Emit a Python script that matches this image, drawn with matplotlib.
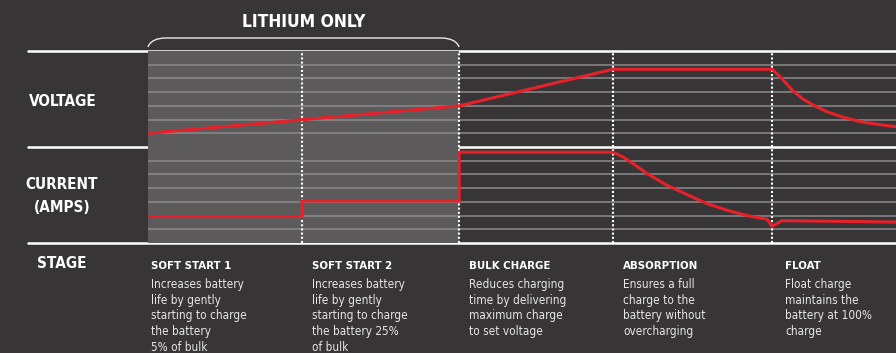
import matplotlib
matplotlib.use("Agg")
import matplotlib.pyplot as plt
from matplotlib.path import Path
from matplotlib.patches import PathPatch

# ---------------- data ----------------
stage_edges = [0, 154, 311, 465, 624]   # time axis, stage start positions
x_end = 748
lithium_end = 311

stage_titles = ["SOFT START 1", "SOFT START 2", "BULK CHARGE", "ABSORPTION", "FLOAT"]
stage_texts = [
    "Increases battery\nlife by gently\nstarting to charge\nthe battery\n5% of bulk",
    "Increases battery\nlife by gently\nstarting to charge\nthe battery 25%\nof bulk",
    "Reduces charging\ntime by delivering\nmaximum charge\nto set voltage",
    "Ensures a full\ncharge to the\nbattery without\novercharging",
    "Float charge\nmaintains the\nbattery at 100%\ncharge",
]

volt_t = [0, 311, 465, 624, 632, 639, 645, 655, 665, 679, 695, 712, 729, 748]
volt_v = [1.0, 3.0, 5.67, 5.67, 5.13, 4.57, 4.08, 3.50, 3.06, 2.57, 2.17, 1.85, 1.66, 1.48]

curr_t = [0, 154, 154, 311, 311, 465, 475, 485, 499, 519, 539, 559, 579, 599, 619, 624, 634, 748]
curr_v = [1.93, 1.93, 3.07, 3.07, 6.62, 6.62, 6.27, 5.79, 5.06, 4.21, 3.53, 2.87, 2.39, 2.00, 1.73, 1.22, 1.63, 1.53]

row_labels = ["VOLTAGE", "CURRENT\n(AMPS)", "STAGE"]

# ---------------- style ----------------
BG = "#373536"
SHADE = "#5c5a5b"
RED = "#e8202a"
GRID = "#8c8b8b"
WHITE = "#ffffff"
FONT = ["DejaVu Sans"]
STRETCH = "condensed"

W, H = 896, 353
fig = plt.figure(figsize=(W / 100, H / 100), dpi=100, facecolor=BG)

# layout axes in pixel coordinates
bg = fig.add_axes([0, 0, 1, 1])
bg.set_xlim(0, W)
bg.set_ylim(H, 0)
bg.axis("off")
bg.set_facecolor(BG)

left_px = 148
panel_top = [51, 147]
panel_h = 96


def make_panel(top):
    ax = fig.add_axes([left_px / W, (H - top - panel_h) / H, (W - left_px) / W, panel_h / H])
    ax.set_xlim(0, x_end)
    ax.set_ylim(0, 7)
    ax.axis("off")
    ax.patch.set_alpha(0)
    ax.axvspan(0, lithium_end, color=SHADE, zorder=0, lw=0)
    for g in range(1, 7):
        ax.axhline(g, color=GRID, lw=1.1, zorder=1)
    for e in stage_edges[1:]:
        ax.axvline(e, color=WHITE, lw=1.5, ls=(0, (1, 1)), zorder=2)
    return ax


ax_v = make_panel(panel_top[0])
ax_c = make_panel(panel_top[1])

ax_v.plot(volt_t, volt_v, color=RED, lw=2.2, zorder=3, solid_joinstyle="miter")
ax_c.plot(curr_t, curr_v, color=RED, lw=2.2, zorder=3, solid_joinstyle="miter")

# white separators
for y in [51, 147, 243]:
    bg.plot([27, W], [y, y], color=WHITE, lw=1.8, zorder=5, solid_capstyle="butt")

# brace over lithium-only stages
x0, x1 = left_px, left_px + lithium_end
yb, yt = 47, 38
verts = [(x0, yb), (x0 + 2, yt + 3), (x0 + 9, yt), (x0 + 18, yt),
         (x1 - 18, yt),
         (x1 - 9, yt), (x1 - 2, yt + 3), (x1, yb)]
codes = [Path.MOVETO, Path.CURVE4, Path.CURVE4, Path.CURVE4,
         Path.LINETO,
         Path.CURVE4, Path.CURVE4, Path.CURVE4]
bg.add_patch(PathPatch(Path(verts, codes), fill=False, ec="#e8e8e8", lw=1.0))

bg.text((x0 + x1) / 2, 22, "LITHIUM ONLY", color=WHITE, fontsize=12.5, fontweight="bold",
        family=FONT, fontstretch=STRETCH, ha="center", va="center")

# row labels
bg.text(29, 102, row_labels[0], color=WHITE, fontsize=11, fontweight="bold",
        family=FONT, fontstretch=STRETCH, ha="left", va="center")
bg.text(62, 196, row_labels[1], color=WHITE, fontsize=11, fontweight="bold",
        family=FONT, fontstretch=STRETCH, ha="center", va="center", linespacing=1.6)
bg.text(62, 264, row_labels[2], color=WHITE, fontsize=11, fontweight="bold",
        family=FONT, fontstretch=STRETCH, ha="center", va="center")

# stage descriptions
title_x = [151, 312, 469, 623, 785]
for tx, title, desc in zip(title_x, stage_titles, stage_texts):
    bg.text(tx, 266, title, color=WHITE, fontsize=8.2, fontweight="bold",
            family=FONT, fontstretch=STRETCH, ha="left", va="center")
    bg.text(tx, 278, desc, color="#e6e6e6", fontsize=8.5,
            family=FONT, fontstretch=STRETCH, ha="left", va="top", linespacing=1.27)

fig.savefig("out.png", dpi=100, facecolor=BG)
